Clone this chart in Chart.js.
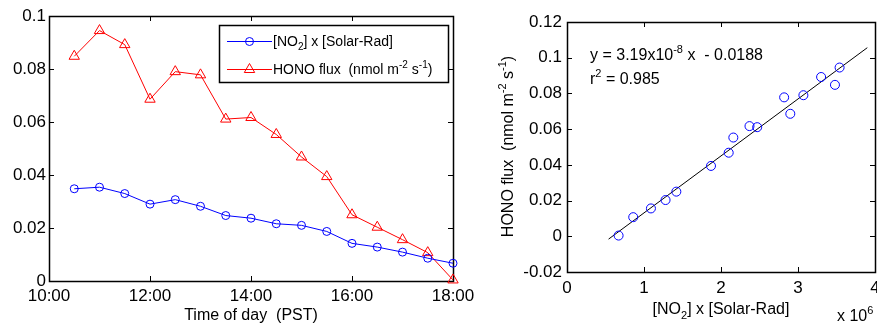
<!DOCTYPE html>
<html>
<head>
<meta charset="utf-8">
<script src="https://cdn.jsdelivr.net/npm/chart.js@4.4.1/dist/chart.umd.min.js"></script>
<style>
    html, body { margin: 0; padding: 0; background: #fff; width: 877px; height: 325px; overflow: hidden; }
    #timeWrap { position: absolute; left: 0; top: 0; width: 480px; height: 325px; }
    #fitWrap { position: absolute; left: 470px; top: 0; width: 420px; height: 325px; }
</style>
</head>
<body>
<div id="timeWrap"><canvas id="timeChart"></canvas></div>
<div id="fitWrap"><canvas id="fitChart"></canvas></div>
<script>
// data
const times = ['10:30', '11:00', '11:30', '12:00', '12:30', '13:00', '13:30', '14:00',
               '14:30', '15:00', '15:30', '16:00', '16:30', '17:00', '17:30', '18:00'];
// [NO2] x [Solar-Rad] (scaled by 1e-8 in the left panel)
const no2Solar = [0.0348, 0.0354, 0.0330, 0.0290, 0.0307, 0.0282, 0.0247, 0.0237,
                  0.0216, 0.0210, 0.0187, 0.0142, 0.0128, 0.0109, 0.0086, 0.0067];
// HONO flux (nmol m-2 s-1)
const honoFlux = [0.0848, 0.0945, 0.0892, 0.0686, 0.0790, 0.0778, 0.0611, 0.0617,
                  0.0553, 0.0468, 0.0394, 0.0250, 0.0203, 0.0156, 0.0107, 0.0004];
const timeTicks = ['10:00', '12:00', '14:00', '16:00', '18:00'];

// linear fit shown in the right panel
const fitSlope = 3.19e-8;
const fitIntercept = -0.0188;
const fitR2 = 0.985;
const fitRange = [0.54e6, 3.9e6];
const no2Scale = 1e8; // left panel values -> real units

const FONT = "'Liberation Sans', Arial, sans-serif";
Chart.defaults.font.family = FONT;
Chart.defaults.color = '#000';

const toHours = t => { const p = t.split(':'); return +p[0] + p[1] / 60; };
const tickText = v => String(+v.toFixed(2));

// text with sub / superscripts: parts = [[text, 0 normal | 1 sub | 2 sup], ...]
function drawRich(ctx, parts, x, y, size, align) {
    const small = Math.round(size * 0.7);
    let w = 0;
    parts.forEach(p => {
        ctx.font = (p[1] ? small : size) + 'px ' + FONT;
        w += ctx.measureText(p[0]).width;
    });
    let cx = align === 'center' ? x - w / 2 : x;
    ctx.textAlign = 'left';
    ctx.textBaseline = 'alphabetic';
    parts.forEach(p => {
        ctx.font = (p[1] ? small : size) + 'px ' + FONT;
        const dy = p[1] === 1 ? size * 0.3 : p[1] === 2 ? -size * 0.42 : 0;
        ctx.fillText(p[0], cx, y + dy);
        cx += ctx.measureText(p[0]).width;
    });
}

// matlab style box with inward ticks on all four sides
const boxTicks = {
    id: 'boxTicks',
    beforeDatasetsDraw(chart) {
        const { ctx, chartArea: a, scales } = chart;
        const len = 5;
        ctx.save();
        ctx.strokeStyle = '#000';
        ctx.lineWidth = 1;
        ctx.beginPath();
        scales.x.ticks.forEach(t => {
            const px = Math.round(scales.x.getPixelForValue(t.value)) + 0.5;
            ctx.moveTo(px, a.bottom); ctx.lineTo(px, a.bottom - len);
            ctx.moveTo(px, a.top); ctx.lineTo(px, a.top + len);
        });
        scales.y.ticks.forEach(t => {
            const py = Math.round(scales.y.getPixelForValue(t.value)) + 0.5;
            ctx.moveTo(a.left, py); ctx.lineTo(a.left + len, py);
            ctx.moveTo(a.right, py); ctx.lineTo(a.right - len, py);
        });
        ctx.stroke();
        ctx.lineWidth = 1.5;
        ctx.strokeRect(Math.round(a.left) + 0.5, Math.round(a.top) + 0.5,
                       Math.round(a.right - a.left), Math.round(a.bottom - a.top));
        ctx.restore();
    }
};

/*
* left panel : time series
*/
const timeLegend = {
    id: 'timeLegend',
    afterDraw(chart) {
        const ctx = chart.ctx;
        const items = [
            { color: '#0000ff', style: 'circle', radius: 4, y: 41,
              text: [['[NO', 0], ['2', 1], ['] x [Solar-Rad]', 0]] },
            { color: '#ff0000', style: 'triangle', radius: 6, y: 69,
              text: [['HONO flux  (nmol m', 0], ['-2', 2], [' s', 0], ['-1', 2], [')', 0]] }
        ];
        ctx.save();
        ctx.fillStyle = '#fff';
        ctx.fillRect(219, 25, 229, 57);
        ctx.strokeStyle = '#000';
        ctx.lineWidth = 1.5;
        ctx.strokeRect(219.5, 25.5, 229, 57);
        items.forEach(it => {
            ctx.strokeStyle = it.color;
            ctx.lineWidth = 1;
            ctx.beginPath();
            ctx.moveTo(227, it.y + 0.5); ctx.lineTo(272, it.y + 0.5);
            ctx.stroke();
            ctx.fillStyle = 'rgba(0,0,0,0)';
            Chart.helpers.drawPoint(ctx, { pointStyle: it.style, radius: it.radius, borderWidth: 1, rotation: 0 }, 249.5, it.y + 0.5);
            ctx.fillStyle = '#000';
            drawRich(ctx, it.text, 273, it.y + 5, 14, 'left');
        });
        ctx.restore();
    }
};

new Chart(document.getElementById('timeChart'), {
    type: 'line',
    data: {
        datasets: [{
            label: '[NO2] x [Solar-Rad]',
            data: times.map((t, i) => ({ x: toHours(t), y: no2Solar[i] })),
            borderColor: '#0000ff',
            backgroundColor: 'rgba(0,0,0,0)',
            borderWidth: 1,
            pointStyle: 'circle',
            pointRadius: 4,
            pointBorderWidth: 1,
            tension: 0,
            clip: false
        }, {
            label: 'HONO flux  (nmol m-2 s-1)',
            data: times.map((t, i) => ({ x: toHours(t), y: honoFlux[i] })),
            borderColor: '#ff0000',
            backgroundColor: 'rgba(0,0,0,0)',
            borderWidth: 1,
            pointStyle: 'triangle',
            pointRadius: 6,
            pointBorderWidth: 1,
            tension: 0,
            clip: false
        }]
    },
    plugins: [boxTicks, timeLegend],
    options: {
        responsive: true,
        maintainAspectRatio: false,
        animation: false,
        layout: { padding: { top: 16, right: 27, left: 0, bottom: 0 } },
        scales: {
            x: {
                type: 'linear',
                min: toHours(timeTicks[0]),
                max: toHours(timeTicks[timeTicks.length - 1]),
                grid: { display: false, drawTicks: false },
                border: { display: false },
                ticks: {
                    stepSize: 2,
                    padding: 5,
                    font: { size: 17 },
                    maxRotation: 0,
                    callback: v => timeTicks.find(t => toHours(t) === v) || ''
                },
                title: { display: true, text: 'Time of day  (PST)', font: { size: 16 }, padding: { top: 0, bottom: 0 } },
                afterFit: s => { s.height = 44; }
            },
            y: {
                min: 0,
                max: 0.1,
                grid: { display: false, drawTicks: false },
                border: { display: false },
                ticks: { stepSize: 0.02, padding: 3, font: { size: 17 }, callback: tickText },
                afterFit: s => { s.width = 49; }
            }
        },
        plugins: { legend: { display: false }, tooltip: { enabled: false } }
    }
});

/*
* right panel : HONO flux vs [NO2] x [Solar-Rad]
*/
const fitText = {
    id: 'fitText',
    afterDraw(chart) {
        const { ctx, chartArea: a } = chart;
        ctx.save();
        ctx.fillStyle = '#000';
        const mant = (fitSlope / 1e-8).toFixed(2);
        drawRich(ctx, [['y = ' + mant + 'x10', 0], ['-8', 2], [' x  - ' + Math.abs(fitIntercept), 0]], a.left + 23, a.top + 38, 16, 'left');
        drawRich(ctx, [['r', 0], ['2', 2], [' = ' + fitR2, 0]], a.left + 23, a.top + 62, 16, 'left');
        // x axis title and multiplier
        drawRich(ctx, [['[NO', 0], ['2', 1], ['] x [Solar-Rad]', 0]], (a.left + a.right) / 2, 314, 16, 'center');
        drawRich(ctx, [['x 10', 0], ['6', 2]], a.right - 38, 321, 16, 'left');
        // y axis title
        ctx.translate(43, (a.top + a.bottom) / 2 - 0.5);
        ctx.rotate(-Math.PI / 2);
        drawRich(ctx, [['HONO flux  (nmol m', 0], ['-2', 2], [' s', 0], ['-1', 2], [')', 0]], 0, 0, 16, 'center');
        ctx.restore();
    }
};

new Chart(document.getElementById('fitChart'), {
    type: 'scatter',
    data: {
        datasets: [{
            label: 'data',
            data: no2Solar.map((v, i) => ({ x: v * no2Scale, y: honoFlux[i] })),
            borderColor: '#0000ff',
            backgroundColor: 'rgba(0,0,0,0)',
            pointStyle: 'circle',
            pointRadius: 4.5,
            pointBorderWidth: 1,
            clip: false
        }, {
            type: 'line',
            label: 'fit',
            data: fitRange.map(x => ({ x: x, y: fitSlope * x + fitIntercept })),
            borderColor: '#000',
            borderWidth: 1,
            pointRadius: 0,
            fill: false
        }]
    },
    plugins: [boxTicks, fitText],
    options: {
        responsive: true,
        maintainAspectRatio: false,
        animation: false,
        layout: { padding: { top: 22, right: 15, left: 0, bottom: 0 } },
        scales: {
            x: {
                type: 'linear',
                min: 0,
                max: 4e6,
                grid: { display: false, drawTicks: false },
                border: { display: false },
                ticks: { stepSize: 1e6, padding: 6, font: { size: 17 }, maxRotation: 0, callback: v => String(v / 1e6) },
                afterFit: s => { s.height = 53; }
            },
            y: {
                min: -0.02,
                max: 0.12,
                grid: { display: false, drawTicks: false },
                border: { display: false },
                ticks: { stepSize: 0.02, padding: 5, font: { size: 17 }, callback: tickText },
                afterFit: s => { s.width = 97; }
            }
        },
        plugins: { legend: { display: false }, tooltip: { enabled: false } }
    }
});
</script>
</body>
</html>
